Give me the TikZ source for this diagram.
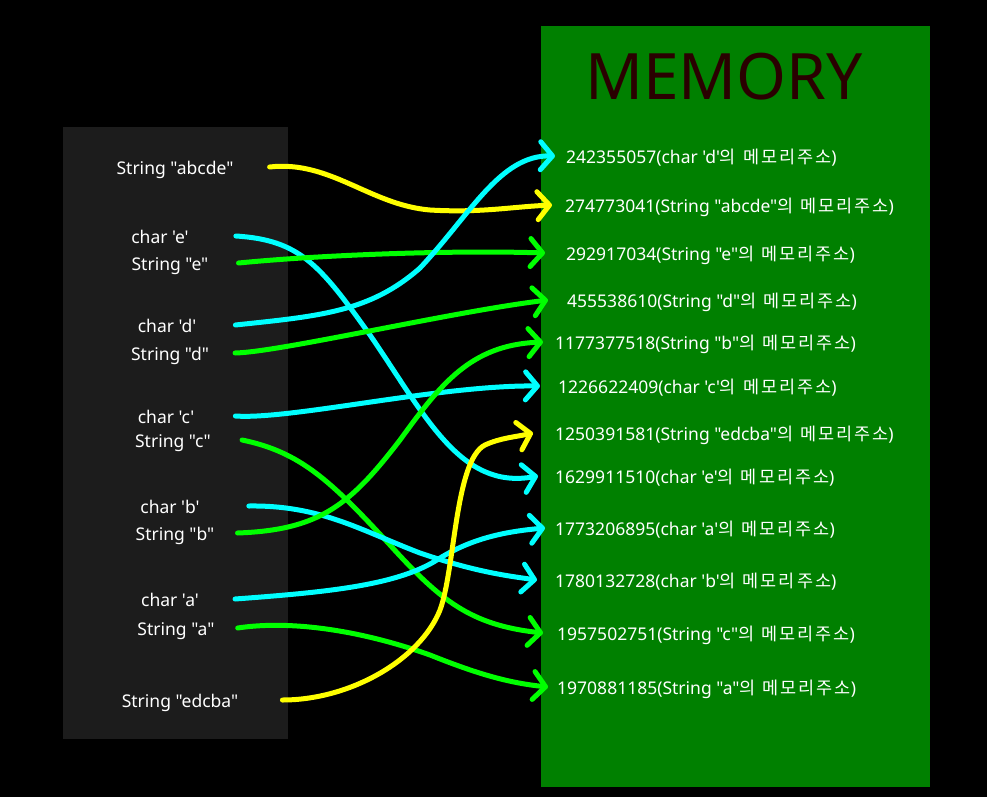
\documentclass[tikz,border=0pt]{standalone}
\usepackage{fontspec}
\setmainfont{Noto Sans}[Ligatures=TeXOff]
\newfontfamily\kr{Noto Sans CJK KR}[LetterSpace=11, WordSpace=1.2]
\usepackage{tikz}
\usetikzlibrary{arrows.meta}
\definecolor{memgreen}{RGB}{0,128,0}
\definecolor{stackgray}{RGB}{28,28,28}
\definecolor{memtitle}{RGB}{42,0,0}
\definecolor{charcol}{RGB}{0,255,255}
\definecolor{strcol}{RGB}{0,255,0}
\definecolor{mainstr}{RGB}{255,255,0}

\begin{document}
\begin{tikzpicture}[x=1pt, y=-1pt,
    lab/.style={anchor=base, inner sep=0pt, text height=14pt, text depth=0pt, text=white, font=\fontsize{17.5}{20}\selectfont},
    addr/.style={lab, anchor=base west},
    ptr/.style={line width=5pt, line cap=round, -{Straight Barb[length=12pt,width=28pt,line cap=round,line join=round]}},
    charptr/.style={ptr, draw=charcol},
    strptr/.style={ptr, draw=strcol},
    mainptr/.style={ptr, draw=mainstr}]
    % background, stack side and memory side
    \fill[black] (0,0) rectangle (987,797);
    \fill[stackgray] (63,127) rectangle (288,739);
    \fill[memgreen] (541,26) rectangle (930,787);
    \node[anchor=base, inner sep=0pt, text=memtitle, font=\fontsize{64}{70}\selectfont] (title) at (724,100) {MEMORY};

    % variables
    \node[lab] (sabcde) at (175,174) {String "abcde"};
    \node[lab] (ce) at (160,243) {char 'e'};
    \node[lab] (se) at (170,270) {String "e"};
    \node[lab] (cd) at (167,332) {char 'd'};
    \node[lab] (sd) at (170,360) {String "d"};
    \node[lab] (cc) at (166,423) {char 'c'};
    \node[lab] (sc) at (173,447) {String "c"};
    \node[lab] (cb) at (170,513) {char 'b'};
    \node[lab] (sb) at (175,540) {String "b"};
    \node[lab] (ca) at (170,606) {char 'a'};
    \node[lab] (sa) at (176,635) {String "a"};
    \node[lab] (sedcba) at (180,707) {String "edcba"};

    % addresses
    \node[addr] (m242) at (566,163) {242355057(char 'd'{\kr 의 메모리주소})};
    \node[addr] (m274) at (565,212) {274773041(String "abcde"{\kr 의 메모리주소})};
    \node[addr] (m292) at (566,260) {292917034(String "e"{\kr 의 메모리주소})};
    \node[addr] (m455) at (567,307) {455538610(String "d"{\kr 의 메모리주소})};
    \node[addr] (m1177) at (555,349) {1177377518(String "b"{\kr 의 메모리주소})};
    \node[addr] (m1226) at (558,393) {1226622409(char 'c'{\kr 의 메모리주소})};
    \node[addr] (m1250) at (555,440) {1250391581(String "edcba"{\kr 의 메모리주소})};
    \node[addr] (m1629) at (555,483) {1629911510(char 'e'{\kr 의 메모리주소})};
    \node[addr] (m1773) at (555,535) {1773206895(char 'a'{\kr 의 메모리주소})};
    \node[addr] (m1780) at (555,587) {1780132728(char 'b'{\kr 의 메모리주소})};
    \node[addr] (m1957) at (557,640) {1957502751(String "c"{\kr 의 메모리주소})};
    \node[addr] (m1970) at (557,694) {1970881185(String "a"{\kr 의 메모리주소})};

    % pointers
    \draw[mainptr] ([xshift=36]sabcde.east) .. controls (330,160) and (370,205) .. (430,210) .. controls (480,213) and (510,207) .. ([xshift=-13]m274.west);
    \draw[charptr] ([xshift=47]ce.east) .. controls (300,240) and (320,265) .. (370,335) .. controls (425,415) and (460,490) .. ([xshift=-17]m1629.west);
    \draw[strptr] ([xshift=30]se.east) .. controls (320,255) and (450,250) .. ([xshift=-21]m292.west);
    \draw[charptr] ([xshift=39]cd.east) .. controls (320,316) and (370,312) .. (420,268) .. controls (470,215) and (500,155) .. ([xshift=-11]m242.west);
    \draw[strptr] ([xshift=26]sd.east) .. controls (280,352) and (450,312) .. ([xshift=-19]m455.west);
    \draw[charptr] ([xshift=41]cc.east) .. controls (290,420) and (440,385) .. ([xshift=-18]m1226.west);
    \draw[strptr] ([xshift=31]sc.east) .. controls (300,452) and (330,480) .. (390,545) .. controls (440,600) and (470,625) .. ([xshift=-14]m1957.west);
    \draw[charptr] ([xshift=49]cb.east) .. controls (320,505) and (360,530) .. (420,553) .. controls (470,570) and (500,575) .. ([xshift=-18]m1780.west);
    \draw[strptr] ([xshift=23]sb.east) .. controls (320,530) and (350,505) .. (400,440) .. controls (440,385) and (470,345) .. ([xshift=-12]m1177.west);
    \draw[charptr] ([xshift=36]ca.east) .. controls (330,592) and (400,585) .. (440,558) .. controls (470,540) and (500,532) .. ([xshift=-10]m1773.west);
    \draw[strptr] ([xshift=23]sa.east) .. controls (290,620) and (360,630) .. (430,655) .. controls (480,675) and (510,683) .. ([xshift=-9]m1970.west);
    \draw[mainptr] ([xshift=44]sedcba.east) .. controls (350,700) and (420,660) .. (440,610) .. controls (455,570) and (455,460) .. (485,445) .. controls (500,438) and (515,437) .. ([xshift=-22]m1250.west);
\end{tikzpicture}
\end{document}
